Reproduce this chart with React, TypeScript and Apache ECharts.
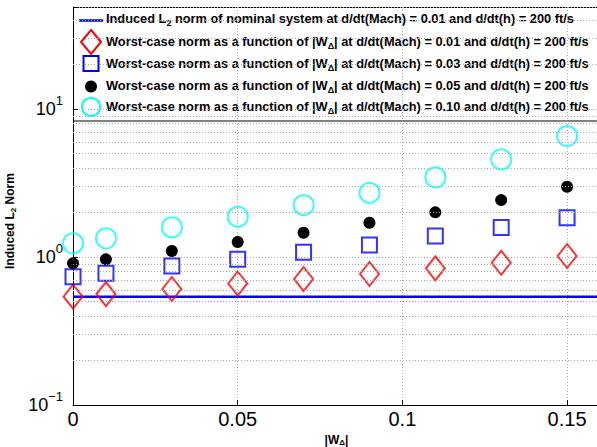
import React, { useEffect, useRef } from "react";
import * as echarts from "echarts";

// |W_Delta| values
const xValues = [0, 0.01, 0.03, 0.05, 0.07, 0.09, 0.11, 0.13, 0.15];
// worst-case norms for d/dt(Mach) = 0.01, 0.03, 0.05, 0.10
const wcMach001 = [0.54, 0.562, 0.608, 0.662, 0.71, 0.768, 0.839, 0.915, 1.016];
const wcMach003 = [0.736, 0.776, 0.869, 0.965, 1.076, 1.205, 1.387, 1.587, 1.843];
const wcMach005 = [0.907, 0.965, 1.098, 1.263, 1.459, 1.705, 2.005, 2.427, 2.985];
const wcMach010 = [1.238, 1.338, 1.587, 1.872, 2.246, 2.719, 3.456, 4.573, 6.572];
// nominal system norm (horizontal line)
const nominalX = [0, 0.16];
const nominalNorm = [0.54, 0.54];
// minor log grid values
const minorGridValues = [0.2, 0.3, 0.4, 0.5, 0.6, 0.7, 0.8, 0.9, 2, 3, 4, 5, 6, 7, 8, 9, 20, 30, 40];
const xTicks = [0, 0.05, 0.1, 0.15];

const legendLabels = [
  "{b|Induced L}{s|2}{b| norm of nominal system at d/dt(Mach) = 0.01 and d/dt(h) = 200 ft/s}",
  "{b|Worst-case norm as a function of |W}{s|Δ}{b|| at d/dt(Mach) = 0.01 and d/dt(h) = 200 ft/s}",
  "{b|Worst-case norm as a function of |W}{s|Δ}{b|| at d/dt(Mach) = 0.03 and d/dt(h) = 200 ft/s}",
  "{b|Worst-case norm as a function of |W}{s|Δ}{b|| at d/dt(Mach) = 0.05 and d/dt(h) = 200 ft/s}",
  "{b|Worst-case norm as a function of |W}{s|Δ}{b|| at d/dt(Mach) = 0.10 and d/dt(h) = 200 ft/s}",
];

const FONT = "'Liberation Sans', Arial, Helvetica, sans-serif";
const RED = "#ff0000";
const BLUE = "#0000ff";
const CYAN = "#00ffff";

const subRich = {
  b: { fontFamily: FONT, fontSize: 12.8, fontWeight: "bold", lineHeight: 18, verticalAlign: "middle", color: "#000" },
  s: { fontFamily: FONT, fontSize: 9, fontWeight: "bold", lineHeight: 6, verticalAlign: "bottom", color: "#000" },
};
const nameRich = {
  b: { fontFamily: FONT, fontSize: 12, fontWeight: "bold", lineHeight: 14, verticalAlign: "middle", color: "#000" },
  s: { fontFamily: FONT, fontSize: 8, fontWeight: "bold", lineHeight: 4, verticalAlign: "bottom", color: "#000" },
};

export default function App() {
  const ref = useRef<HTMLDivElement>(null);
  useEffect(() => {
    document.body.style.margin = "0";
    if (!ref.current) return;
    const chart = echarts.init(ref.current, null, { renderer: "svg" });
    const pts = (ys: number[]) => xValues.map((x, i) => [x, ys[i]]);
    const legendRowsY = [18, 41.5, 63.5, 85, 106.5];
    const option: any = {
      animation: false,
      backgroundColor: "#fff",
      grid: { left: 73, top: 7, right: -3, bottom: 42, containLabel: false, outerBoundsMode: "none" },
      xAxis: {
        type: "value",
        min: 0,
        max: 0.16,
        interval: 0.05,
        name: "{b||W}{s|Δ}{b||}",
        nameLocation: "middle",
        nameGap: 24,
        nameTextStyle: { rich: nameRich },
        axisLine: { show: true, lineStyle: { color: "#000", width: 1 } },
        axisTick: { show: true, inside: true, length: 5, lineStyle: { color: "#000" } },
        axisLabel: {
          margin: 4,
          fontFamily: FONT,
          fontSize: 20,
          color: "#000",
          formatter: (v: number) =>
            xTicks.some((t) => Math.abs(t - v) < 1e-9) ? String(+v.toFixed(4)) : "",
        },
        splitLine: { show: true, lineStyle: { type: [1, 2], color: "#aaa", width: 1 } },
      },
      yAxis: {
        type: "log",
        logBase: 10,
        min: 0.1,
        max: 49,
        interval: 1,
        name: "{b|Induced L}{s|2}{b| Norm}",
        nameLocation: "middle",
        nameGap: 52,
        nameTextStyle: { rich: nameRich, padding: [0, 30, 0, 0] },
        axisLine: { show: true, lineStyle: { color: "#000", width: 1 } },
        axisTick: { show: true, inside: true, length: 5, lineStyle: { color: "#000" } },
        axisLabel: {
          margin: 10,
          formatter: (v: number) => {
            const l = Math.log10(v);
            const e = Math.round(l);
            if (Math.abs(l - e) > 1e-6) return "";
            return `{m|10}{p|${e < 0 ? "\u2212" + -e : e}}`;
          },
          rich: {
            m: { fontFamily: FONT, fontSize: 18, color: "#000", lineHeight: 30, verticalAlign: "middle" },
            p: { fontFamily: FONT, fontSize: 13, color: "#000", lineHeight: 8, verticalAlign: "top" },
          },
        },
        splitLine: { show: true, lineStyle: { type: [1, 2], color: "#aaa", width: 1 } },
      },
      series: [
        {
          type: "line",
          data: [],
          z: 1,
          silent: true,
          markLine: {
            silent: true,
            symbol: "none",
            label: { show: false },
            lineStyle: { type: [1, 2], color: "#aaa", width: 1 },
            data: minorGridValues.map((v) => ({ yAxis: v })),
          },
        },
        {
          name: "nominal",
          type: "line",
          z: 2,
          data: nominalX.map((x, i) => [x, nominalNorm[i]]),
          symbol: "none",
          lineStyle: { color: BLUE, width: 2.5 },
          itemStyle: { color: BLUE },
        },
        {
          type: "scatter",
          z: 3,
          clip: false,
          data: pts(wcMach001),
          symbol: "diamond",
          symbolSize: [19, 24],
          itemStyle: { color: "rgba(0,0,0,0)", borderColor: RED, borderWidth: 2 },
        },
        {
          type: "scatter",
          z: 3,
          clip: false,
          data: pts(wcMach003),
          symbol: "rect",
          symbolSize: 15,
          itemStyle: { color: "rgba(0,0,0,0)", borderColor: BLUE, borderWidth: 2 },
        },
        {
          type: "scatter",
          z: 3,
          clip: false,
          data: pts(wcMach005),
          symbol: "circle",
          symbolSize: 12,
          itemStyle: { color: "#000", opacity: 1 },
        },
        {
          type: "scatter",
          z: 3,
          clip: false,
          data: pts(wcMach010),
          symbol: "circle",
          symbolSize: 20,
          itemStyle: { color: "rgba(0,0,0,0)", borderColor: CYAN, borderWidth: 2 },
        },
      ],
      graphic: [
        {
          type: "group",
          z: 100,
          children: [
            {
              type: "rect",
              shape: { x: 73.5, y: 7.5, width: 540, height: 113.5 },
              style: { fill: "#fff", stroke: "#000", lineWidth: 1 },
            },
            {
              type: "line",
              shape: { x1: 79, y1: 20.5, x2: 103, y2: 20.5 },
              style: { stroke: BLUE, lineWidth: 2.5 },
            },
            {
              type: "polygon",
              shape: { points: [[91, 30], [101, 42], [91, 54], [81, 42]] },
              style: { fill: "none", stroke: RED, lineWidth: 2 },
            },
            {
              type: "rect",
              shape: { x: 83.5, y: 56, width: 15, height: 15 },
              style: { fill: "none", stroke: BLUE, lineWidth: 2 },
            },
            {
              type: "circle",
              shape: { cx: 91, cy: 86.5, r: 6 },
              style: { fill: "#000" },
            },
            {
              type: "circle",
              shape: { cx: 91, cy: 107, r: 9 },
              style: { fill: "none", stroke: CYAN, lineWidth: 2 },
            },
            ...legendLabels.map((t, i) => ({
              type: "text",
              x: 106,
              y: legendRowsY[i],
              style: { text: t, rich: subRich, verticalAlign: "middle", align: "left", fill: "#000" },
            })),
          ],
        },
      ],
    };
    chart.setOption(option);
    return () => chart.dispose();
  }, []);
  return <div ref={ref} style={{ width: 597, height: 447 }} />;
}
